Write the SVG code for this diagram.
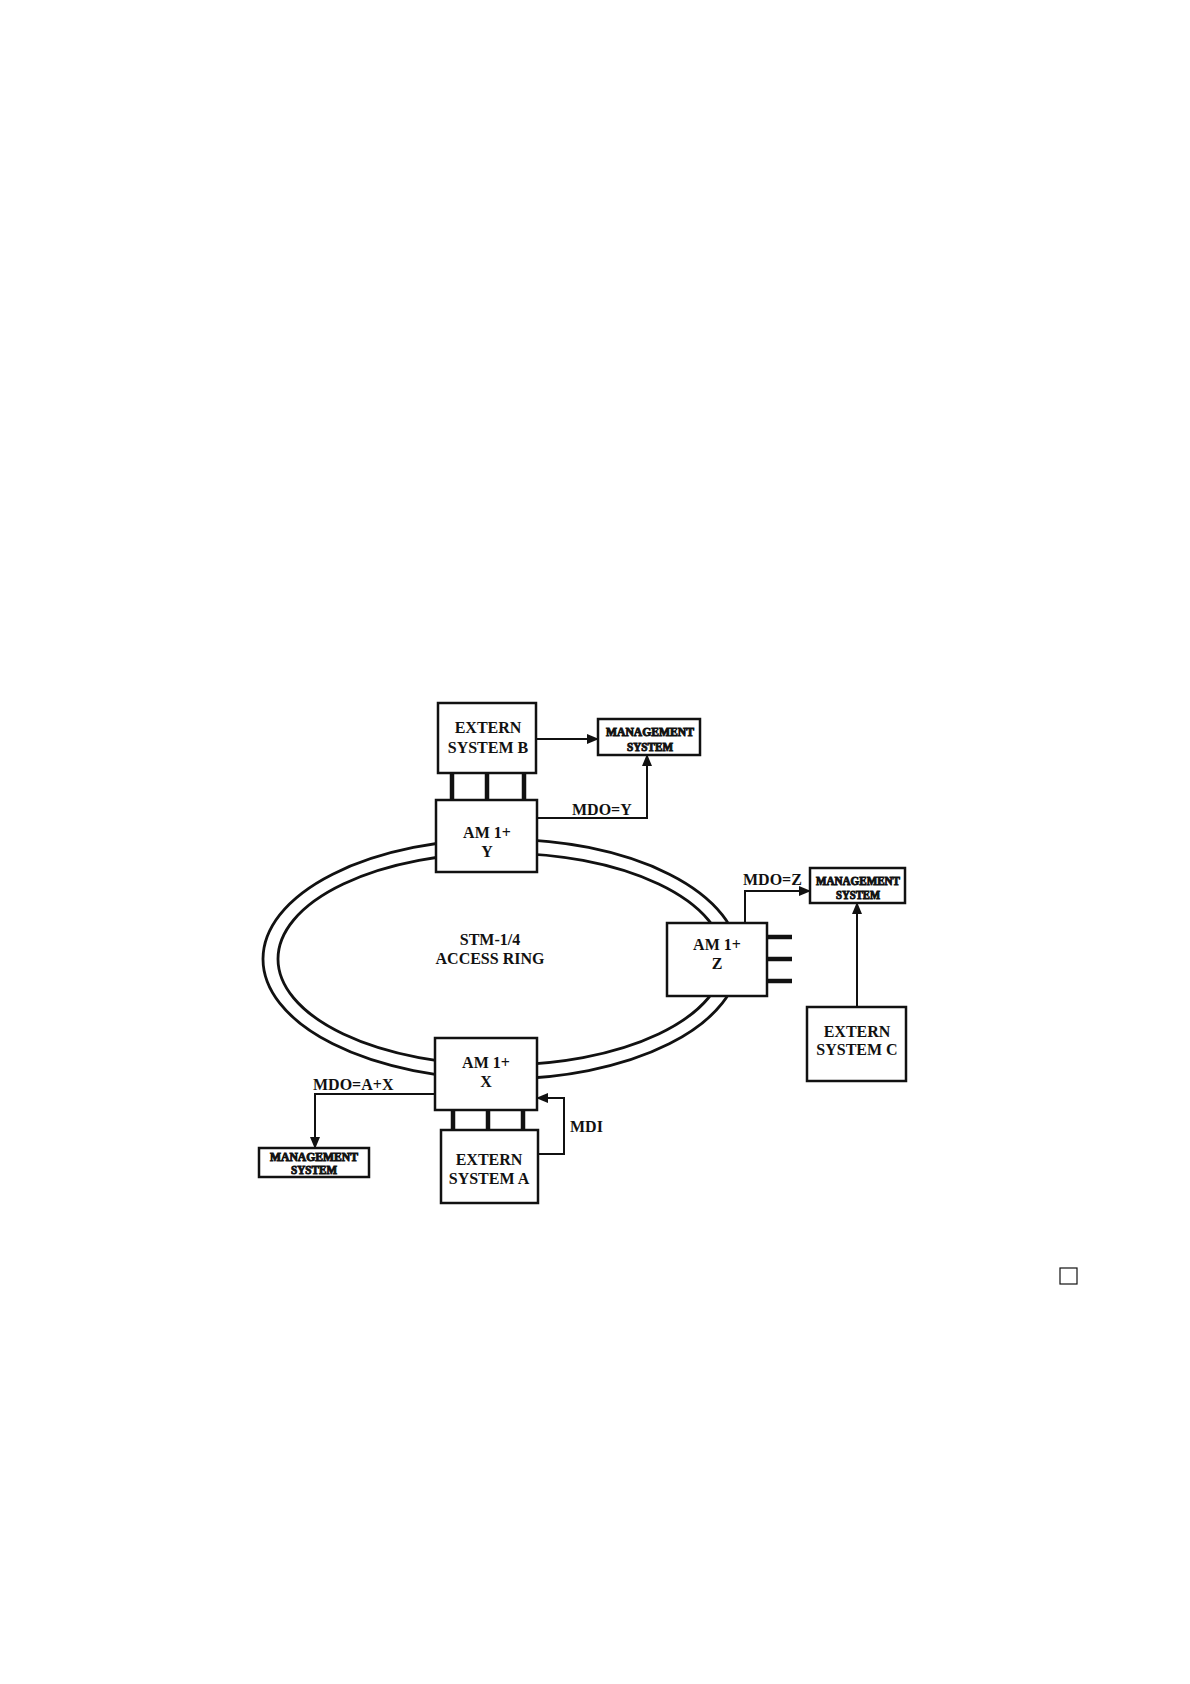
<svg xmlns="http://www.w3.org/2000/svg" width="1190" height="1684" viewBox="0 0 1190 1684">
<style>
.box{fill:#fff;stroke:#111;stroke-width:2.5}
.t{font-family:"Liberation Serif","Times New Roman",serif;font-weight:bold;font-size:16px;fill:#111;text-anchor:middle}
.lbl{font-family:"Liberation Serif","Times New Roman",serif;font-weight:bold;font-size:16px;fill:#111}
.m{font-family:"Liberation Serif","Times New Roman",serif;font-weight:bold;font-size:11.5px;fill:#111;stroke:#111;stroke-width:0.9;text-anchor:middle}
.ln{fill:none;stroke:#111;stroke-width:2}
.bus{stroke:#111;stroke-width:4.5}
.ring{fill:none;stroke:#111;stroke-width:2.8}
</style>
<defs>
<marker id="ah" markerWidth="12" markerHeight="10" refX="11" refY="5" orient="auto" markerUnits="userSpaceOnUse">
<path d="M0,0 L12,5 L0,10 Z" fill="#111"/>
</marker>
</defs>
<rect width="1190" height="1684" fill="#fff"/>
<g id="ring">
<ellipse class="ring" cx="501" cy="959" rx="238" ry="120"/>
<ellipse class="ring" cx="501" cy="959" rx="223" ry="106"/>
<text class="t" x="490" y="945">STM-1/4</text>
<text class="t" x="490" y="964">ACCESS RING</text>
</g>
<g id="connectors">
<line class="bus" x1="452" y1="773" x2="452" y2="800"/>
<line class="bus" x1="487" y1="773" x2="487" y2="800"/>
<line class="bus" x1="524" y1="773" x2="524" y2="800"/>
<line class="ln" x1="536" y1="739" x2="598" y2="739" marker-end="url(#ah)"/>
<polyline class="ln" points="537,818 647,818 647,755" marker-end="url(#ah)"/>
<polyline class="ln" points="745,923 745,891 810,891" marker-end="url(#ah)"/>
<line class="bus" x1="767" y1="937" x2="792" y2="937"/>
<line class="bus" x1="767" y1="959" x2="792" y2="959"/>
<line class="bus" x1="767" y1="981" x2="792" y2="981"/>
<line class="ln" x1="857" y1="1007" x2="857" y2="903" marker-end="url(#ah)"/>
<line class="bus" x1="453" y1="1110" x2="453" y2="1130"/>
<line class="bus" x1="488" y1="1110" x2="488" y2="1130"/>
<line class="bus" x1="523" y1="1110" x2="523" y2="1130"/>
<polyline class="ln" points="538,1154 564,1154 564,1098 537,1098" marker-end="url(#ah)"/>
<polyline class="ln" points="435,1094 315,1094 315,1148" marker-end="url(#ah)"/>
<text class="lbl" x="572" y="815">MDO=Y</text>
<text class="lbl" x="743" y="885">MDO=Z</text>
<text class="lbl" x="570" y="1132">MDI</text>
<text class="lbl" x="313" y="1090">MDO=A+X</text>
</g>
<g id="extern-b">
<rect class="box" x="438" y="703" width="98" height="70"/>
<text class="t" x="488" y="733">EXTERN</text>
<text class="t" x="488" y="753">SYSTEM B</text>
</g>
<g id="mgmt-b">
<rect class="box" x="598" y="719" width="102" height="36"/>
<text class="m" x="650" y="736" textLength="88" lengthAdjust="spacingAndGlyphs">MANAGEMENT</text>
<text class="m" x="650" y="751" textLength="46" lengthAdjust="spacingAndGlyphs">SYSTEM</text>
</g>
<g id="am-y">
<rect class="box" x="436" y="800" width="101" height="72"/>
<text class="t" x="487" y="838">AM 1+</text>
<text class="t" x="487" y="857">Y</text>
</g>
<g id="am-z">
<rect class="box" x="667" y="923" width="100" height="73"/>
<text class="t" x="717" y="950">AM 1+</text>
<text class="t" x="717" y="969">Z</text>
</g>
<g id="mgmt-z">
<rect class="box" x="810" y="868" width="95" height="35"/>
<text class="m" x="858" y="885" textLength="84" lengthAdjust="spacingAndGlyphs">MANAGEMENT</text>
<text class="m" x="858" y="899" textLength="44" lengthAdjust="spacingAndGlyphs">SYSTEM</text>
</g>
<g id="extern-c">
<rect class="box" x="807" y="1007" width="99" height="74"/>
<text class="t" x="857" y="1037">EXTERN</text>
<text class="t" x="857" y="1055">SYSTEM C</text>
</g>
<g id="am-x">
<rect class="box" x="435" y="1038" width="102" height="72"/>
<text class="t" x="486" y="1068">AM 1+</text>
<text class="t" x="486" y="1087">X</text>
</g>
<g id="extern-a">
<rect class="box" x="441" y="1130" width="97" height="73"/>
<text class="t" x="489" y="1165">EXTERN</text>
<text class="t" x="489" y="1184">SYSTEM A</text>
</g>
<g id="mgmt-a">
<rect class="box" x="259" y="1148" width="110" height="29"/>
<text class="m" x="314" y="1161" textLength="88" lengthAdjust="spacingAndGlyphs">MANAGEMENT</text>
<text class="m" x="314" y="1174" textLength="46" lengthAdjust="spacingAndGlyphs">SYSTEM</text>
</g>
<rect x="1060" y="1268" width="17" height="16" fill="none" stroke="#111" stroke-width="1.2"/>
</svg>
